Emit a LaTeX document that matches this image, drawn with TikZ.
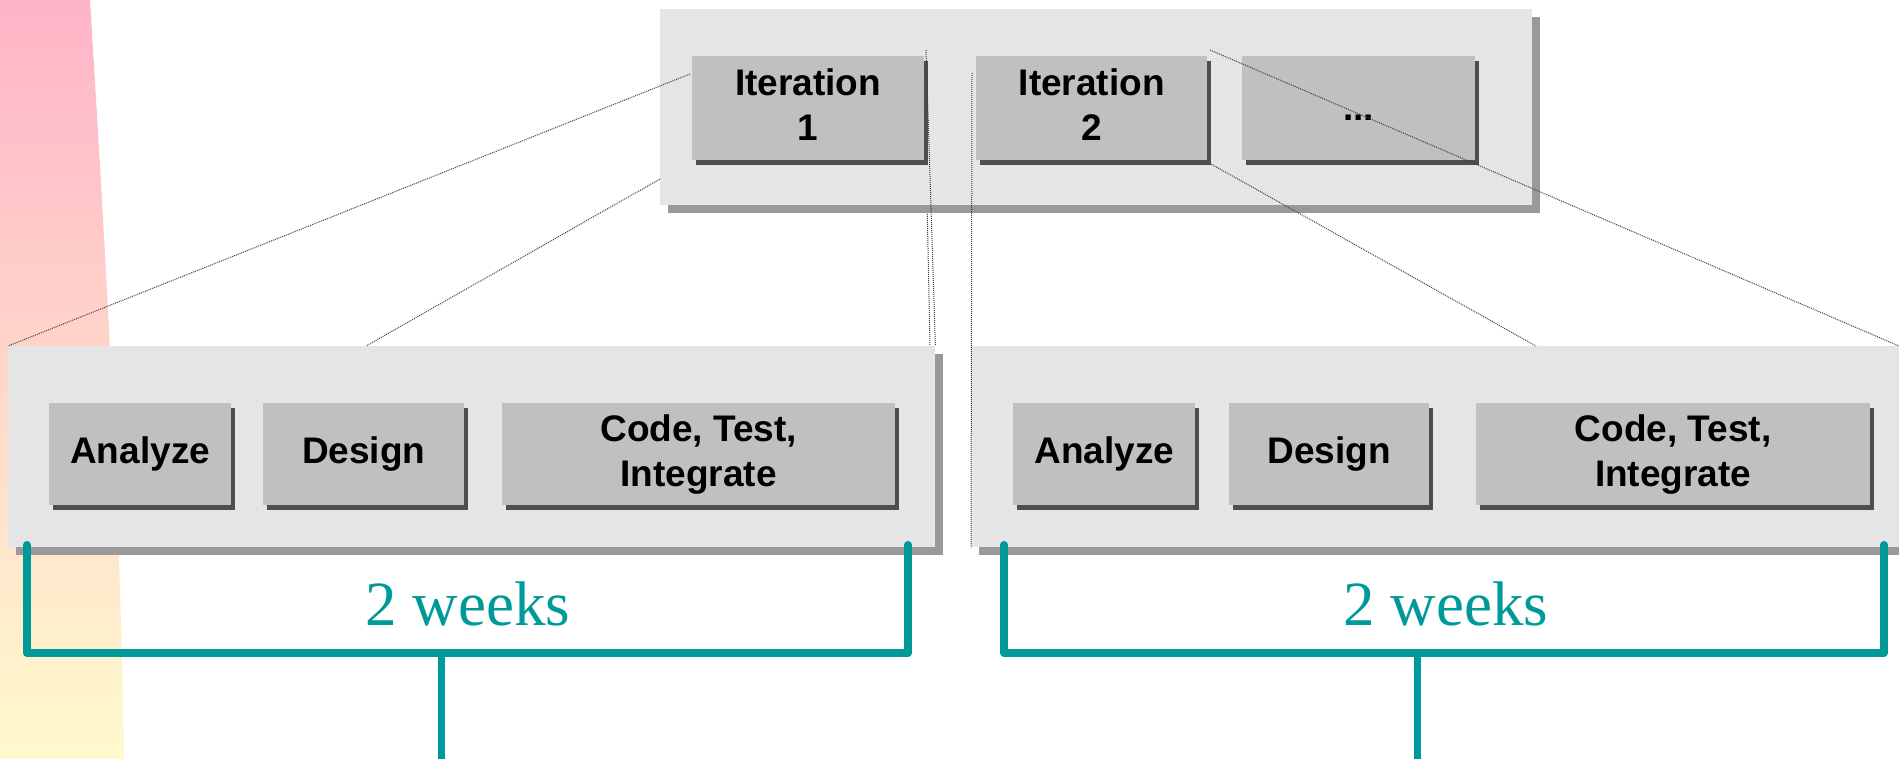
\documentclass[tikz,border=0pt]{standalone}
\usepackage{fontspec}
\setmainfont{Liberation Serif}
\newfontfamily\boxfont{Liberation Sans}
\usetikzlibrary{shadows,calc}
\definecolor{panelc}{RGB}{229,229,229}
\definecolor{panelsh}{RGB}{153,153,153}
\definecolor{boxc}{RGB}{192,192,192}
\definecolor{boxsh}{RGB}{77,77,77}
\definecolor{tealc}{RGB}{0,153,153}
\definecolor{bandtop}{RGB}{255,180,200}
\definecolor{bandmid}{RGB}{255,216,200}
\definecolor{bandbot}{RGB}{255,250,205}
\tikzset{
  panelbox/.style={fill=panelc, draw=none, inner sep=0pt, anchor=north west,
    drop shadow={shadow xshift=8pt, shadow yshift=-8pt, fill=panelsh, opacity=1}},
  stepbox/.style={fill=boxc, draw=none, inner sep=0pt, anchor=north west, align=center,
    font=\boxfont\bfseries\fontsize{37}{45}\selectfont, text=black,
    drop shadow={shadow xshift=4pt, shadow yshift=-5pt, fill=boxsh, opacity=1}},
  weeks/.style={anchor=base, text=tealc, font=\fontsize{63}{70}\selectfont},
  bracket/.style={draw=tealc, line width=8pt, line join=round, line cap=round},
  stem/.style={draw=tealc, line width=7pt},
  zoomline/.style={draw=black!75, line width=1pt, dash pattern=on 1pt off 1pt}
}
\begin{document}
\begin{tikzpicture}[x=1pt,y=-1pt]
\useasboundingbox (0,0) rectangle (1899,759);
\clip (0,0) rectangle (1899,759);
% background band
\shade[top color=bandtop, middle color=bandmid, bottom color=bandbot]
  (0,0) -- (90,0) .. controls (106,260) and (120,500) .. (124,759) -- (0,759) -- cycle;
% hidden line behind top panel
\coordinate (c3c) at (927,200);
\coordinate (c3d) at (930,346);
\draw[zoomline] (c3c) -- (c3d);
% top panel
\node[panelbox, minimum width=872pt, minimum height=196pt] (top) at (660,9) {};
\node[stepbox, minimum width=232pt, minimum height=104pt] (it1) at (692,56) {Iteration\\1\vphantom{g}};
\node[stepbox, minimum width=231pt, minimum height=104pt] (it2) at (976,56) {Iteration\\2\vphantom{g}};
\node[stepbox, minimum width=233pt, minimum height=104pt, text height=30pt, text depth=6pt] (it3) at (1242,56) {...};
% lower panels
\node[panelbox, minimum width=927pt, minimum height=201pt] (lp) at (8,346) {};
\node[panelbox, minimum width=960pt, minimum height=201pt] (rp) at (971,346) {};
\node[stepbox, minimum width=182pt, minimum height=102pt] (a1) at (49,403) {Analyze};
\node[stepbox, minimum width=201pt, minimum height=102pt] (d1) at (263,403) {Design};
\node[stepbox, minimum width=393pt, minimum height=102pt] (c1) at (502,403) {Code, Test,\\Integrate};
\node[stepbox, minimum width=182pt, minimum height=102pt] (a2) at (1013,403) {Analyze};
\node[stepbox, minimum width=200pt, minimum height=102pt] (d2) at (1229,403) {Design};
\node[stepbox, minimum width=394pt, minimum height=102pt] (c2) at (1476,403) {Code, Test,\\Integrate};
% brackets
\coordinate (b1a) at (27,545);
\coordinate (b1b) at (27,653);
\coordinate (b1c) at (908,653);
\coordinate (b1d) at (908,545);
\coordinate (s1a) at (441,653);
\coordinate (s1b) at (441,765);
\coordinate (b2a) at (1004,545);
\coordinate (b2b) at (1004,653);
\coordinate (b2c) at (1884,653);
\coordinate (b2d) at (1884,545);
\coordinate (s2a) at (1417,653);
\coordinate (s2b) at (1417,765);
\draw[stem] (s1a) -- (s1b);
\draw[stem] (s2a) -- (s2b);
\draw[bracket] (b1a) -- (b1b) -- (b1c) -- (b1d);
\draw[bracket] (b2a) -- (b2b) -- (b2c) -- (b2d);
\node[weeks] (w1) at (468,625) {2 weeks};
\node[weeks] (w2) at (1446,625) {2 weeks};
% zoom lines
\coordinate (c1a) at (690,74);
\coordinate (c2a) at (660,179);
\coordinate (c2b) at (366,346);
\coordinate (c3a) at (926,50);
\coordinate (c4a) at (972,73);
\coordinate (c5a) at (1211,164);
\coordinate (c5b) at (1536,346);
\coordinate (c6a) at (1210,50);
\coordinate (c6b) at (1899,346);
\draw[zoomline] (c1a) -- (lp.north west);
\draw[zoomline] (c2a) -- (c2b);
\draw[zoomline] (c3a) -- (lp.north east);
\draw[zoomline] (c4a) -- (rp.south west);
\draw[zoomline] (c5a) -- (c5b);
\draw[zoomline] (c6a) -- (c6b);
\end{tikzpicture}
\end{document}
